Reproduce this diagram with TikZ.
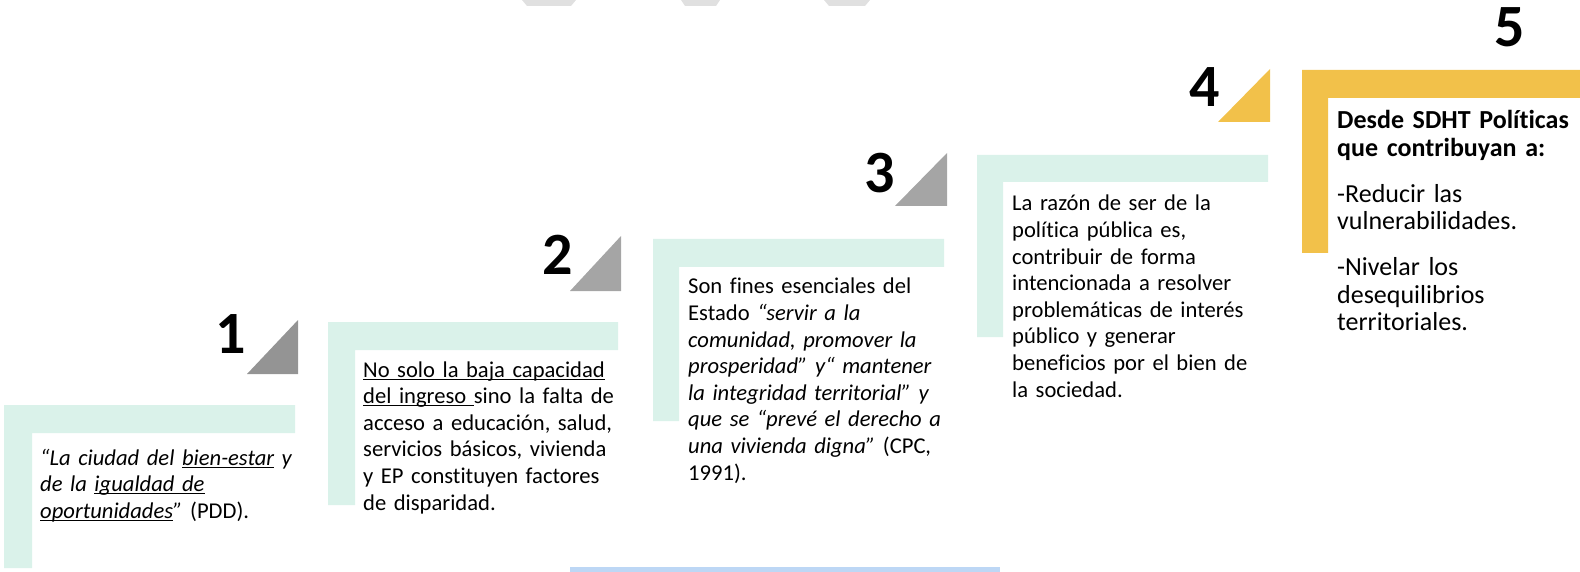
\documentclass[tikz,border=0pt]{standalone}
\usepackage{fontspec}
\setmainfont{Carlito}[Ligatures={TeX,NoCommon}]
\definecolor{mint}{HTML}{DAF2EA}
\definecolor{gold}{HTML}{F2C14A}
\definecolor{stepgray}{HTML}{A5A5A5}
\definecolor{edgegray}{HTML}{E0E0E0}
\definecolor{edgeblue}{HTML}{BDD7F5}
\newsavebox{\undrbox}
\newcommand{\undr}[1]{\leavevmode\sbox{\undrbox}{#1}%
  \rlap{\rule[-2.6pt]{\wd\undrbox}{1.1pt}}\usebox{\undrbox}}
\tikzset{
  bar/.style={fill=#1, draw=none},
  bar/.default=mint,
  tri/.style={fill=#1, draw=none},
  tri/.default=stepgray,
  num/.style={anchor=base east, inner sep=0pt, font=\fontsize{60}{60}\selectfont\bfseries},
  txt/.style={anchor=base west, inner sep=0pt, align=left, text width=#1,
    font=\fontsize{22.6}{26.6}\selectfont},
  txt/.default=300pt,
}
\begin{document}
\begin{tikzpicture}[x=1pt,y=-1pt]
  \useasboundingbox (0,0) rectangle (1580,572);
  % bits of the slide at the edges
  \fill[edgegray] (522,0) -- (576,0) -- (571,6) -- (527,6) -- cycle;
  \fill[edgegray] (681,0) -- (720,0) -- (716,6) -- (685,6) -- cycle;
  \fill[edgegray] (824,0) -- (870,0) -- (865,6) -- (829,6) -- cycle;
  \fill[edgeblue] (570,567) rectangle (1000,572);

  % step frames
  \fill[bar] (4,405) -- (295,405) -- (295,433) -- (32,433) -- (32,568) -- (4,568) -- cycle;
  \fill[bar] (328,322) -- (618,322) -- (618,350) -- (355,350) -- (355,505) -- (328,505) -- cycle;
  \fill[bar] (653,239) -- (944,239) -- (944,267) -- (679,267) -- (679,421) -- (653,421) -- cycle;
  \fill[bar] (977,155) -- (1268,155) -- (1268,182) -- (1003,182) -- (1003,337) -- (977,337) -- cycle;
  \fill[bar=gold] (1302,70) -- (1580,70) -- (1580,98) -- (1328,98) -- (1328,253) -- (1302,253) -- cycle;

  % corner marks
  \fill[tri=stepgray!90!black] (247,374) -- (298,374) -- (298,320) -- cycle;
  \fill[tri] (570,291) -- (621,291) -- (621,236) -- cycle;
  \fill[tri] (895,206) -- (947,206) -- (947,153) -- cycle;
  \fill[tri=gold] (1218,122) -- (1270,122) -- (1270,69) -- cycle;

  % step numbers
  \node[num] (n1) at (246,353) {1};
  \node[num] (n2) at (573,274) {2};
  \node[num] (n3) at (895,193) {3};
  \node[num] (n4) at (1220,107) {4};
  \node[num, anchor=base] (n5) at (1510,47) {5};

  % texts
  \node[txt] (t1) at (40,465) {{\itshape “La ciudad del \undr{bien-estar} y\\
    de la \undr{igualdad de}\\
    \undr{oportunidades}”} (PDD).};
  \node[txt] (t2) at (363,377) {\undr{No solo la baja capacidad}\\
    \undr{del ingreso }sino la falta de\\
    acceso a educación, salud,\\
    servicios básicos, vivienda\\
    y EP constituyen factores\\
    de disparidad.};
  \node[txt] (t3) at (688,294) {Son fines esenciales del\\
    Estado {\itshape “servir a la\\
    comunidad, promover la\\
    prosperidad” y“ mantener\\
    la integridad territorial” y\\
    que se “prevé el derecho a\\
    una vivienda digna”} (CPC,\\
    1991).};
  \node[txt] (t4) at (1012,211) {La razón de ser de la\\
    política pública es,\\
    contribuir de forma\\
    intencionada a resolver\\
    problemáticas de interés\\
    público y generar\\
    beneficios por el bien de\\
    la sociedad.};
  \node[txt=240pt, font=\fontsize{26}{27.5}\selectfont] (t5) at (1337,129)
    {{\bfseries Desde SDHT Políticas\\ que contribuyan a:}\\[18.5pt]
    -Reducir las\\ vulnerabilidades.\\[18.5pt]
    -Nivelar los\\ desequilibrios\\ territoriales.};
\end{tikzpicture}
\end{document}
